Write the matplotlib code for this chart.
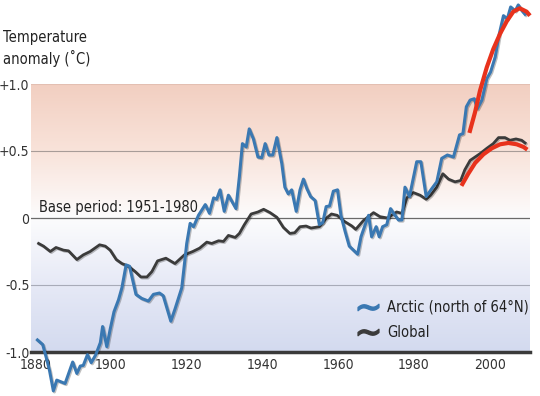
import numpy as np
import matplotlib
matplotlib.use("Agg")
import matplotlib.pyplot as plt
from matplotlib.colors import LinearSegmentedColormap
from matplotlib.lines import Line2D
import matplotlib.patheffects as pe

plt.rcParams['font.family'] = ['DejaVu Sans']
plt.rcParams['font.stretch'] = 'condensed'

# Arctic (north of 64N) anomaly
arctic_years = [1880.6, 1882.0, 1883.1, 1883.8, 1884.8, 1885.7, 1887.9, 1889.9, 1891.0, 1891.9,
                1892.7, 1893.8, 1894.8, 1896.0, 1897.2, 1897.8, 1898.9, 1899.8, 1900.8, 1902.0,
                1902.9, 1904.0, 1904.9, 1906.6, 1908.1, 1909.9, 1911.2, 1912.8, 1913.8, 1915.8,
                1916.9, 1918.7, 1920.0, 1920.9, 1921.8, 1923.1, 1924.9, 1926.0, 1927.1, 1927.9,
                1928.8, 1929.9, 1931.0, 1933.0, 1933.9, 1934.7, 1935.7, 1936.5, 1937.6, 1938.8,
                1939.8, 1940.7, 1941.7, 1942.7, 1943.8, 1945.1, 1945.9, 1946.8, 1947.7, 1948.9,
                1949.9, 1950.8, 1951.7, 1952.7, 1953.9, 1955.0, 1955.9, 1956.8, 1957.7, 1958.7,
                1959.8, 1960.7, 1961.8, 1962.9, 1964.0, 1965.1, 1966.0, 1967.1, 1968.0, 1968.8,
                1970.0, 1970.8, 1971.7, 1972.8, 1973.8, 1974.6, 1975.9, 1976.8, 1977.6, 1978.8,
                1980.7, 1981.8, 1983.2, 1984.7, 1986.0, 1987.3, 1988.8, 1990.4, 1992.0, 1992.9,
                1993.8, 1994.8, 1995.9, 1996.7, 1997.9, 1999.2, 2000.2, 2001.4, 2002.5, 2003.6,
                2004.6, 2005.5, 2006.7, 2007.5, 2008.4, 2009.3]
arctic_vals = [-0.91, -0.945, -1.06, -1.14, -1.29, -1.21, -1.235, -1.075, -1.16, -1.105,
               -1.10, -1.02, -1.08, -1.02, -0.93, -0.81, -0.96, -0.83, -0.70, -0.61,
               -0.52, -0.35, -0.36, -0.57, -0.60, -0.62, -0.57, -0.56, -0.58, -0.77,
               -0.68, -0.52, -0.19, -0.04, -0.065, 0.02, 0.10, 0.035, 0.15, 0.14,
               0.21, 0.05, 0.17, 0.07, 0.31, 0.555, 0.53, 0.665, 0.59, 0.455,
               0.45, 0.555, 0.47, 0.47, 0.60, 0.405, 0.23, 0.18, 0.21, 0.05,
               0.21, 0.29, 0.22, 0.16, 0.13, -0.05, -0.035, 0.085, 0.09, 0.20,
               0.21, 0.02, -0.10, -0.21, -0.24, -0.27, -0.14, -0.05, 0.02, -0.14,
               -0.065, -0.14, -0.065, -0.05, 0.07, 0.035, -0.015, -0.015, 0.23, 0.16,
               0.42, 0.42, 0.16, 0.22, 0.27, 0.445, 0.47, 0.455, 0.62, 0.63,
               0.83, 0.88, 0.89, 0.815, 0.88, 1.04, 1.09, 1.20, 1.375, 1.51,
               1.485, 1.575, 1.545, 1.59, 1.55, 1.52]

# Global anomaly
global_years = [1880.9, 1882.2, 1884.0, 1885.5, 1887.5, 1888.8, 1891.0, 1892.7, 1894.5, 1897.0,
                1898.5, 1899.8, 1901.4, 1902.9, 1904.6, 1906.4, 1907.9, 1909.5, 1910.8, 1912.3,
                1914.5, 1916.9, 1919.4, 1921.6, 1923.4, 1925.3, 1926.6, 1928.4, 1929.7, 1931.0,
                1932.8, 1933.9, 1935.2, 1937.0, 1938.8, 1940.3, 1942.0, 1943.8, 1945.5, 1947.2,
                1948.5, 1949.9, 1951.5, 1952.8, 1955.0, 1956.9, 1958.2, 1959.7, 1961.6, 1963.6,
                1964.6, 1966.6, 1969.3, 1971.0, 1973.0, 1975.4, 1976.8, 1978.1, 1979.8, 1981.6,
                1983.2, 1984.4, 1986.0, 1987.6, 1989.1, 1990.8, 1992.3, 1993.4, 1994.8, 1996.1,
                1997.4, 1999.2, 2000.9, 2002.3, 2004.0, 2005.3, 2006.9, 2008.4, 2009.3]
global_vals = [-0.19, -0.21, -0.25, -0.22, -0.24, -0.245, -0.31, -0.275, -0.25, -0.20,
               -0.21, -0.24, -0.31, -0.34, -0.36, -0.40, -0.44, -0.44, -0.40, -0.32,
               -0.30, -0.34, -0.275, -0.25, -0.225, -0.18, -0.19, -0.17, -0.175, -0.13,
               -0.145, -0.115, -0.05, 0.03, 0.045, 0.065, 0.04, 0.005, -0.07, -0.115,
               -0.11, -0.065, -0.06, -0.075, -0.065, 0.0, 0.03, 0.02, -0.025, -0.06,
               -0.085, -0.02, 0.04, 0.01, 0.0, 0.045, 0.035, 0.15, 0.19, 0.17,
               0.14, 0.17, 0.23, 0.33, 0.29, 0.27, 0.28, 0.36, 0.43, 0.455,
               0.48, 0.52, 0.555, 0.60, 0.60, 0.58, 0.59, 0.58, 0.56]

# red trend curves
arctic_fit_years = [1994.6, 1996.1, 1997.4, 1999.2, 2000.9, 2002.7, 2004.5, 2006.2, 2007.9, 2009.7, 2010.6]
arctic_fit_vals = [0.635, 0.79, 0.95, 1.125, 1.26, 1.375, 1.47, 1.54, 1.565, 1.54, 1.51]
global_fit_years = [1992.5, 1994.3, 1996.1, 1998.3, 2000.5, 2002.7, 2004.9, 2007.1, 2008.9, 2009.9]
global_fit_vals = [0.24, 0.33, 0.41, 0.475, 0.52, 0.55, 0.56, 0.55, 0.53, 0.51]

xticks = [1880, 1900, 1920, 1940, 1960, 1980, 2000]
yticks = [-1.0, -0.5, 0, 0.5, 1.0]
ytick_labels = ['-1.0', '-0.5', '0', '+0.5', '+1.0']

fig = plt.figure(figsize=(5.4, 3.96), dpi=100)
ax = fig.add_axes([31/540, 44/396, 499/540, 268/396])
x0, x1 = 1878.9, 2010.6
ax.set_xlim(x0, x1)
ax.set_ylim(-1, 1)

# background gradient (salmon top -> white at zero -> lavender bottom)
cmap = LinearSegmentedColormap.from_list('bg', [
    (0.0, '#d3daef'), (0.25, '#e6e9f6'), (0.5, '#fcfcfd'),
    (0.75, '#f9e3da'), (1.0, '#f2cfc1')])
grad = np.linspace(0, 1, 256).reshape(-1, 1)
ax.imshow(grad, extent=[x0, x1, -1, 1], aspect='auto', cmap=cmap,
          origin='lower', zorder=0)

ax.axhline(1.0, color='#e3bfb2', lw=0.8, zorder=1)
ax.axhline(0.5, color='#a89c98', lw=0.8, zorder=1)
ax.axhline(0.0, color='#6a6a6a', lw=0.9, zorder=1)
ax.axhline(-0.5, color='#a8abb8', lw=0.8, zorder=1)

for s in ['top', 'right', 'left']:
    ax.spines[s].set_visible(False)
ax.spines['bottom'].set_color('#3a3a3a')
ax.spines['bottom'].set_linewidth(2.5)
ax.spines['bottom'].set_zorder(2)

shadow = [pe.SimpleLineShadow(offset=(0.8, -0.8), alpha=0.25), pe.Normal()]
ax.plot(global_years, global_vals, color='#3b3b3b', lw=2.0, zorder=3,
        clip_on=False, path_effects=shadow)
ax.plot(arctic_years, arctic_vals, color='#3a78b2', lw=2.2, zorder=4,
        clip_on=False, path_effects=shadow)
ax.plot(arctic_fit_years, arctic_fit_vals, color='#e8321c', lw=3.0, zorder=5,
        clip_on=False, solid_capstyle='butt')
ax.plot(global_fit_years, global_fit_vals, color='#e8321c', lw=3.0, zorder=5,
        clip_on=False, solid_capstyle='butt')

ax.set_xticks(xticks)
ax.set_xticklabels([str(t) for t in xticks], fontsize=10, color='#333333')
ax.set_yticks(yticks)
ax.set_yticklabels(ytick_labels, fontsize=10, color='#333333')
ax.tick_params(axis='both', length=0)
ax.tick_params(axis='x', pad=4)
ax.tick_params(axis='y', pad=1)

ax.text(1881.0, 0.025, 'Base period: 1951-1980', fontsize=10.5,
        color='#222222', va='bottom', ha='left', zorder=6)

fig.text(3/540, 1 - 30/396, 'Temperature\nanomaly (˚C)', fontsize=10.5,
         color='#222222', va='top', ha='left', linespacing=1.35)

handles = [Line2D([], [], color='#3a78b2', marker='$\\sim$', markersize=15,
                  linestyle='none', label='Arctic (north of 64°N)'),
           Line2D([], [], color='#3b3b3b', marker='$\\sim$', markersize=15,
                  linestyle='none', label='Global')]
ax.legend(handles=handles, loc='lower left', bbox_to_anchor=(0.653, 0.045),
          frameon=False, fontsize=10.5, handlelength=1.5, handletextpad=0.6,
          labelspacing=0.7, borderpad=0, borderaxespad=0, labelcolor='#222222')

fig.savefig('out.png', dpi=100)
